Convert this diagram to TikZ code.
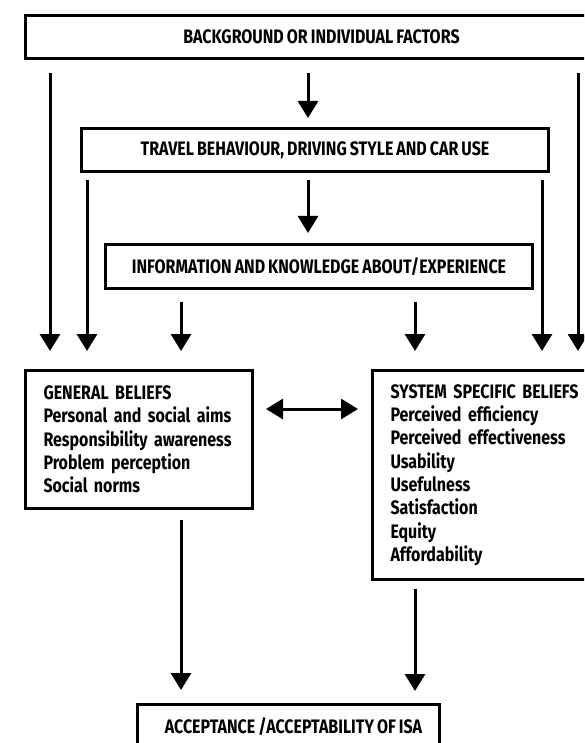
\documentclass[tikz,border=0pt]{standalone}
\usepackage{fontspec}
\setmainfont{Fira Sans}[FakeStretch=0.82, WordSpace=0.8]
\usetikzlibrary{arrows.meta}
\tikzset{
	box/.style    = {draw, line width=3pt, rectangle, anchor=north west,
		inner ysep=0pt, font=\bfseries\fontsize{19.5}{23.3}\selectfont},
	leftbox/.style = {box, align=left, inner xsep=18pt},
	flow/.style   = {line width=3pt},
	col/.style    = {coordinate} % column of an arrow
}

\begin{document}
\begin{tikzpicture}[x=1pt, y=-1pt, >={Triangle[width=20pt,length=17pt]}]
	\useasboundingbox (0,0) rectangle (584,743);
	\fill[white] (0,0) rectangle (584,743);
	\clip (0,0) rectangle (584,743);
	\draw
	
	node at (24,14) [box, minimum width=592pt, minimum height=43pt] (bg) {BACKGROUND OR INDIVIDUAL FACTORS}
	node at (80,127) [box, minimum width=467pt, minimum height=43pt] (trav) {TRAVEL BEHAVIOUR, DRIVING STYLE AND CAR USE}
	node at (104,243) [box, minimum width=427pt, minimum height=44pt] (info) {INFORMATION AND KNOWLEDGE ABOUT/EXPERIENCE}
	node at (24,369) [leftbox, minimum height=138pt, text width=191pt] (gen) {GENERAL BELIEFS\\Personal and social aims\\Responsibility awareness\\Problem perception\\Social norms}
	node at (371,369) [leftbox, minimum height=209pt, text width=204pt] (sys) {SYSTEM SPECIFIC BELIEFS\\Perceived efficiency\\Perceived effectiveness\\Usability\\Usefulness\\Satisfaction\\Equity\\Affordability}
	node at (136,703) [box, minimum width=302pt, minimum height=44pt] (acc) {\hspace{10pt}ACCEPTANCE /ACCEPTABILITY OF ISA};
	
	\node at (50,0) [col] (c1) {};
	\node at (87,0) [col] (c2) {};
	\node at (181,0) [col] (c3) {};
	\node at (308,0) [col] (c4) {};
	\node at (415,0) [col] (c5) {};
	\node at (542,0) [col] (c6) {};
	\node at (578,0) [col] (c7) {};
	\node at (0,409) [col] (mid) {};
	
	\draw[flow, ->, shorten <=13pt, shorten >=18pt](bg.south -| c1)--(gen.north -| c1);
	\draw[flow, ->, shorten <=7pt, shorten >=18pt](trav.south -| c2)--(gen.north -| c2);
	\draw[flow, ->, shorten <=13pt, shorten >=9pt](bg.south -| c4)--(trav.north -| c4);
	\draw[flow, ->, shorten <=7pt, shorten >=10pt](trav.south -| c4)--(info.north -| c4);
	\draw[flow, ->, shorten <=12pt, shorten >=18pt](info.south -| c3)--(gen.north -| c3);
	\draw[flow, ->, shorten <=12pt, shorten >=18pt](info.south -| c5)--(sys.north -| c5);
	\draw[flow, ->, shorten <=7pt, shorten >=18pt](trav.south -| c6)--(sys.north -| c6);
	\draw[flow, ->, shorten <=13pt, shorten >=18pt](bg.south -| c7)--(sys.north -| c7);
	\draw[flow, <->, shorten <=12pt, shorten >=13pt](gen.east |- mid)--(sys.west |- mid);
	\draw[flow, ->, shorten <=10pt, shorten >=13pt](gen.south -| c3)--(acc.north -| c3);
	\draw[flow, ->, shorten <=8pt, shorten >=12pt](sys.south -| c5)--(acc.north -| c5);
\end{tikzpicture}
\end{document}
